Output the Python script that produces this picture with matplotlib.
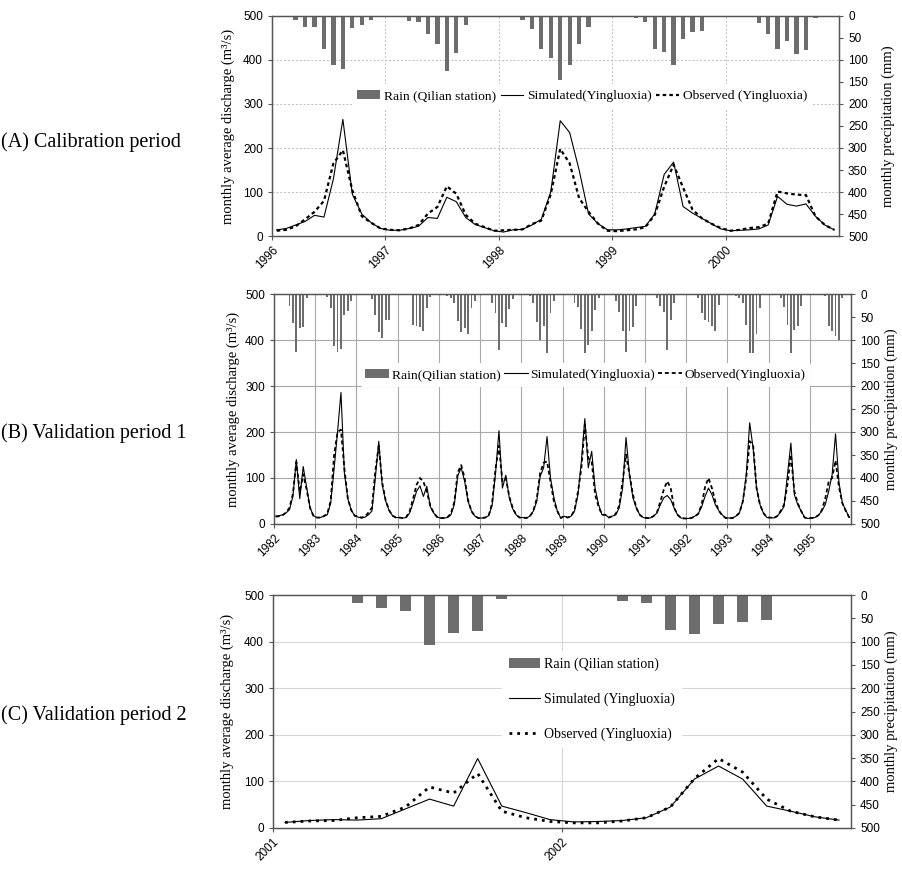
import matplotlib
matplotlib.use('Agg')
import matplotlib.pyplot as plt
from matplotlib.patches import Patch
from matplotlib.lines import Line2D

plt.rcParams['font.family'] = ['Liberation Sans', 'DejaVu Sans']
SERIF = ['Liberation Serif', 'DejaVu Serif']

# ---------------- Panel A: calibration period 1996-2000 (monthly) ----------------
a_start = 1996
a_years = ['1996', '1997', '1998', '1999', '2000']
a_rain = [3, 0, 8, 26, 24, 75, 112, 120, 28, 21, 8, 0,
          0, 0, 11, 14, 40, 64, 126, 85, 20, 0, 1, 0,
          1, 0, 8, 30, 74, 95, 146, 112, 64, 24, 0, 0,
          0, 0, 5, 14, 74, 82, 112, 52, 37, 33, 0, 0,
          0, 0, 1, 16, 40, 74, 57, 86, 77, 4, 0, 0]
a_sim = [14, 17, 25, 33, 47, 43, 130, 265, 95, 50, 30, 17,
         13, 13, 17, 22, 42, 40, 88, 78, 42, 26, 19, 12,
         9, 14, 15, 25, 38, 100, 262, 235, 150, 50, 28, 14,
         14, 16, 19, 22, 50, 140, 168, 67, 52, 40, 28, 16,
         12, 13, 14, 16, 25, 90, 72, 68, 73, 45, 25, 14]
a_obs = [12, 14, 22, 38, 55, 80, 165, 195, 104, 45, 30, 17,
         14, 13, 17, 25, 51, 66, 113, 96, 48, 28, 20, 12,
         13, 14, 15, 27, 35, 95, 198, 165, 86, 55, 28, 12,
         11, 13, 15, 20, 48, 112, 162, 110, 60, 40, 28, 18,
         12, 14, 18, 20, 28, 101, 97, 94, 93, 45, 25, 14]
a_labels = ['Rain (Qilian station)', 'Simulated(Yingluoxia)', 'Observed (Yingluoxia)']

# ---------------- Panel B: validation period 1, 1982-1995 ----------------
b_start = 1982
b_years = [str(y) for y in range(1982, 1996)]
b_rain = [0, 0, 3, 3, 27, 62, 127, 74, 72, 9, 2, 0,          # 1982
          0, 0, 1, 6, 30, 112, 125, 120, 45, 38, 16, 0,      # 1983
          0, 0, 0, 1, 10, 45, 83, 96, 56, 57, 2, 0,          # 1984
          0, 0, 2, 3, 68, 70, 72, 81, 30, 7, 0, 0,           # 1985
          0, 1, 4, 9, 20, 58, 83, 74, 88, 30, 15, 0,         # 1986
          0, 0, 2, 19, 42, 122, 64, 72, 33, 10, 2, 0,        # 1987
          0, 2, 5, 20, 61, 99, 70, 128, 41, 16, 2, 0,        # 1988
          0, 0, 1, 20, 29, 75, 128, 110, 81, 35, 8, 0,       # 1989
          0, 0, 3, 16, 40, 81, 126, 81, 72, 27, 3, 0,        # 1990
          0, 0, 2, 8, 25, 40, 122, 56, 19, 3, 0, 0,          # 1991
          0, 1, 2, 9, 41, 56, 60, 70, 81, 23, 2, 0,          # 1992
          0, 1, 5, 9, 20, 67, 128, 128, 88, 30, 3, 0,        # 1993
          0, 1, 3, 9, 29, 67, 128, 78, 70, 27, 3, 0,         # 1994
          0, 1, 2, 3, 5, 70, 81, 92, 99, 9, 0, 0]            # 1995
b_sim = [17, 18, 20, 24, 31, 60, 140, 55, 125, 80, 35, 18,
         14, 14, 17, 20, 45, 120, 200, 286, 110, 55, 30, 18,
         15, 13, 15, 20, 28, 100, 180, 85, 50, 30, 18, 14,
         14, 13, 14, 24, 46, 71, 83, 60, 82, 38, 24, 15,
         13, 13, 14, 20, 42, 105, 122, 93, 49, 28, 17, 13,
         13, 14, 18, 40, 110, 203, 78, 106, 57, 33, 20, 14,
         14, 13, 17, 28, 49, 104, 122, 190, 100, 57, 28, 13,
         17, 14, 17, 28, 64, 136, 229, 122, 158, 78, 42, 20,
         20, 14, 17, 20, 35, 78, 188, 107, 57, 35, 20, 14,
         13, 13, 17, 24, 42, 57, 62, 53, 35, 20, 13, 12,
         12, 13, 17, 22, 37, 60, 78, 64, 42, 29, 20, 13,
         13, 13, 17, 24, 49, 107, 220, 165, 78, 42, 24, 14,
         14, 13, 17, 26, 38, 107, 176, 64, 42, 28, 14, 12,
         13, 14, 19, 28, 42, 71, 107, 196, 90, 45, 30, 14]
b_obs = [16, 17, 19, 25, 35, 65, 135, 70, 108, 75, 35, 17,
         14, 14, 17, 22, 50, 150, 200, 205, 120, 55, 30, 18,
         16, 14, 16, 25, 35, 115, 170, 90, 52, 30, 18, 14,
         14, 13, 15, 28, 55, 85, 100, 92, 70, 40, 24, 15,
         13, 13, 15, 22, 48, 112, 128, 100, 52, 28, 17, 13,
         13, 14, 18, 45, 120, 170, 93, 100, 60, 35, 20, 14,
         14, 13, 17, 28, 55, 111, 133, 136, 93, 49, 28, 13,
         17, 14, 17, 30, 70, 122, 216, 143, 136, 64, 38, 20,
         20, 14, 17, 22, 40, 93, 151, 107, 64, 35, 20, 14,
         13, 13, 17, 25, 49, 75, 93, 78, 35, 20, 13, 12,
         12, 13, 16, 22, 42, 80, 100, 78, 49, 29, 19, 13,
         13, 13, 17, 24, 49, 100, 180, 172, 78, 42, 24, 14,
         14, 13, 17, 28, 42, 86, 151, 71, 45, 28, 14, 12,
         13, 14, 19, 30, 55, 92, 100, 138, 80, 45, 28, 14]
b_labels = ['Rain(Qilian station)', 'Simulated(Yingluoxia)', 'Observed(Yingluoxia)']

# ---------------- Panel C: validation period 2, 2001-2002 ----------------
c_start = 2001
c_years = ['2001', '2002']
c_rain = [0, 0, 0, 17, 28, 34, 107, 81, 77, 9, 0, 0,
          2, 0, 12, 17, 76, 84, 62, 58, 54, 1, 1, 1]
c_sim = [12, 16, 18, 17, 20, 41, 62, 47, 149, 47, 33, 18,
         13, 14, 16, 22, 45, 105, 133, 105, 47, 36, 24, 17]
c_obs = [12, 15, 16, 22, 25, 45, 88, 75, 117, 36, 22, 14,
         11, 11, 15, 22, 45, 106, 149, 120, 62, 36, 24, 17]
c_labels = ['Rain (Qilian station)', 'Simulated (Yingluoxia)', 'Observed (Yingluoxia)']

W, H = 903, 875
fig = plt.figure(figsize=(W / 100, H / 100), dpi=100)
BAR = '#6d6d6d'
SPINE = '#555555'


def rect(x0, y0, x1, y1):
    return [x0 / W, 1 - y1 / H, (x1 - x0) / W, (y1 - y0) / H]


def panel(r, start, years, rain, sim, obs, barw, obs_style, obs_lw, grid, lab_l, lab_r):
    n = len(rain)
    x = [start + (k + 0.5) / 12 for k in range(n)]
    ax = fig.add_axes(r)
    ax.set_xlim(start, start + n / 12)
    ax.set_ylim(0, 500)
    ax.set_yticks(range(0, 501, 100))
    ax.set_xticks([start + i for i in range(len(years))])
    ax.set_xticklabels(years, rotation=45, ha='right', rotation_mode='anchor', fontsize=8.5)
    ax.tick_params(axis='y', labelsize=8.5, length=3, color=SPINE)
    ax.tick_params(axis='x', length=3, color=SPINE, pad=3)
    for s in ax.spines.values():
        s.set_color(SPINE)
        s.set_linewidth(0.9)
    grid(ax)
    ax.plot(x, sim, color='black', lw=0.8, zorder=3)
    ax.plot(x, obs, color='black', lw=obs_lw, linestyle=obs_style, zorder=3)
    ax.set_ylabel('monthly average discharge (m³/s)', family=SERIF, fontsize=10.5)
    ax.yaxis.set_label_coords(lab_l, 0.5)

    ax2 = ax.twinx()
    ax2.set_ylim(500, 0)
    ax2.set_yticks(range(0, 501, 50))
    ax2.tick_params(axis='y', labelsize=8.5, length=3, color=SPINE)
    ax2.bar(x, rain, width=barw / 12, color=BAR, zorder=2)
    for s in ax2.spines.values():
        s.set_color(SPINE)
        s.set_linewidth(0.9)
    ax2.set_ylabel('monthly precipitation (mm)', family=SERIF, fontsize=10.5)
    ax2.yaxis.set_label_coords(lab_r, 0.5)
    handles = [Patch(facecolor=BAR, edgecolor='none'),
               Line2D([], [], color='black', lw=0.8),
               Line2D([], [], color='black', lw=obs_lw, linestyle=obs_style)]
    return ax, ax2, handles


def grid_a(ax):
    for v in range(100, 500, 100):
        ax.axhline(v, color='#bdbdbd', lw=0.7, ls=(0, (2, 2)), zorder=1)
    for yv in range(1997, 2001):
        ax.axvline(yv, color='#bdbdbd', lw=0.7, ls=(0, (2, 2)), zorder=1)


def grid_b(ax):
    for v in range(100, 500, 100):
        ax.axhline(v, color='#a8a8a8', lw=0.8, zorder=1)
    for yv in range(1983, 1996):
        ax.axvline(yv, color='#a8a8a8', lw=0.8, zorder=1)


def grid_c(ax):
    for v in range(100, 500, 100):
        ax.axhline(v, color='#d6d6d6', lw=0.8, zorder=1)
    ax.axvline(2002, color='#d6d6d6', lw=0.8, zorder=1)


LEGFONT = {'family': SERIF, 'size': 9.7}

# Panel A
axA, axA2, hA = panel(rect(272, 16, 839, 236), a_start, a_years, a_rain, a_sim, a_obs,
                      0.45, (0, (1.6, 1.4)), 1.6, grid_a, -0.065, 1.075)
legA = axA2.legend(hA, a_labels, loc='center', bbox_to_anchor=(0.547, 0.636), ncol=3,
                   prop=LEGFONT, frameon=True, facecolor='white',
                   edgecolor='none', framealpha=1, handlelength=1.7, handletextpad=0.25,
                   columnspacing=0.35, borderpad=0.4)

# Panel B
axB, axB2, hB = panel(rect(274, 294, 851, 524), b_start, b_years, b_rain, b_sim, b_obs,
                      0.55, (0, (2.2, 1.6)), 1.3, grid_b, -0.059, 1.058)
legB = axB2.legend(hB, b_labels, loc='center', bbox_to_anchor=(0.54, 0.648), ncol=3,
                   prop=LEGFONT, frameon=True, facecolor='white',
                   edgecolor='none', framealpha=1, handlelength=1.8, handletextpad=0.2,
                   columnspacing=0.2, borderpad=0.4)

# Panel C
axC, axC2, hC = panel(rect(273, 595, 851, 828), c_start, c_years, c_rain, c_sim, c_obs,
                      0.45, (0, (1, 1.8)), 2.0, grid_c, -0.067, 1.058)
legC = axC2.legend(hC, c_labels, loc='upper left', bbox_to_anchor=(0.385, 0.79), ncol=1,
                   prop={'family': SERIF, 'size': 10}, frameon=True, facecolor='white',
                   edgecolor='none', framealpha=1, handlelength=2.2, handletextpad=0.3,
                   labelspacing=1.55, borderpad=0.5)

fig.text(1 / W, 1 - 142 / H, '(A) Calibration period', family=SERIF, fontsize=14.5, va='center', ha='left')
fig.text(1 / W, 1 - 433 / H, '(B) Validation period 1', family=SERIF, fontsize=14.5, va='center', ha='left')
fig.text(1 / W, 1 - 715 / H, '(C) Validation period 2', family=SERIF, fontsize=14.5, va='center', ha='left')

fig.savefig('out.png', dpi=100)
